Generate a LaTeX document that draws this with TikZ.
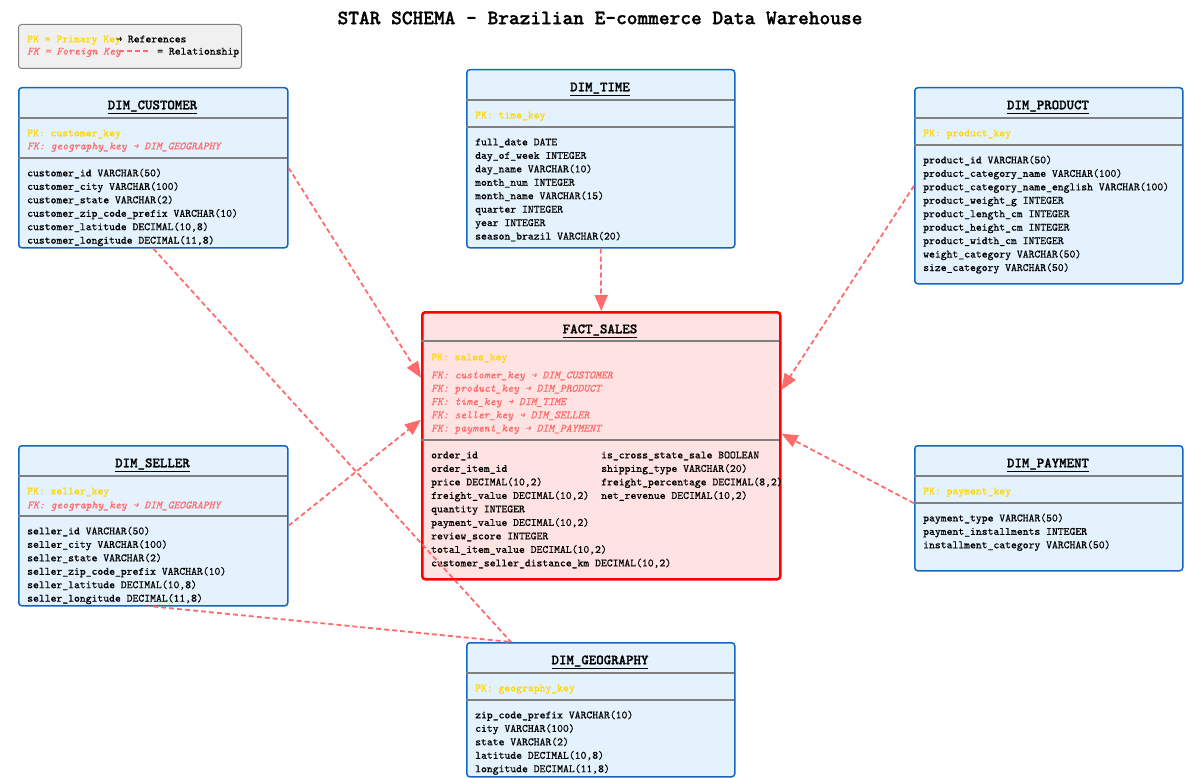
\documentclass[tikz,border=0pt]{standalone}
\usepackage{fontspec}
\newfontfamily\fieldfont{lmmono10-regular.otf}[ItalicFont=lmmono10-italic.otf,FakeBold=0.6]
\newfontfamily\headfont{lmmonolt10-bold.otf}[FakeBold=1.2]
\usepackage{tikz}
\usetikzlibrary{positioning,arrows.meta,calc}
\usepackage{xcolor}
\definecolor{dimfill}{RGB}{227,242,253}
\definecolor{dimline}{RGB}{21,101,192}
\definecolor{factfill}{RGB}{255,226,226}
\definecolor{factline}{RGB}{255,0,0}
\definecolor{pkgold}{RGB}{255,215,0}
\definecolor{fkred}{RGB}{255,107,107}
\definecolor{legendbg}{RGB}{240,240,240}

\tikzset{
  dimbox/.style={rectangle,rounded corners=3pt,draw=dimline,fill=dimfill,
    line width=1.5pt,anchor=north west,inner sep=0pt},
  factbox/.style={rectangle,rounded corners=3pt,draw=factline,fill=factfill,
    line width=2.5pt,anchor=north west,inner sep=0pt},
  tabletitle/.style={anchor=base,inner sep=0pt,
    font=\headfont\fontsize{14.2}{16}\selectfont},
  pkrow/.style={anchor=base west,inner sep=0pt,text=pkgold,
    font=\fieldfont\fontsize{11.15}{13}\selectfont},
  fkrow/.style={pkrow,text=fkred,font=\fieldfont\itshape\fontsize{11.15}{13}\selectfont},
  attrrow/.style={pkrow,text=black},
  divider/.style={draw=gray,line width=1.2pt},
  relation/.style={draw=fkred,line width=1.8pt,dash pattern=on 5pt off 3pt,
    -{Triangle[length=16pt,width=13pt]}},
}

\begin{document}
\begin{tikzpicture}[x=1pt,y=-1pt]
\useasboundingbox (0,0) rectangle (1190,778);

% heading
\node[anchor=base,inner sep=0pt,font=\headfont\fontsize{20.4}{23}\selectfont] (title) at (600,24.2)
  {STAR SCHEMA - Brazilian E-commerce Data Warehouse};

% legend
\node[rectangle,rounded corners=3pt,draw=gray,fill=legendbg,line width=1pt,anchor=north west,
  minimum width=223pt,minimum height=44pt,inner sep=0pt] (legend) at (18,24) {};
\node[pkrow] (legPK) at (27,42.4) {PK = Primary Key};
\node[attrrow] (legRef) at (116,42.4) {→ References};
\node[fkrow] (legFK) at (27,54.6) {FK = Foreign Key};
\coordinate (legA) at (119,51);
\coordinate (legB) at (151,51);
\draw[relation,-,line width=1.2pt] (legA) -- (legB);
\node[attrrow] (legRel) at (157,54.6) {= Relationship};

% DIM_CUSTOMER
\node[dimbox,minimum width=269pt,minimum height=160pt] (cust) at (18,87) {};
\node[tabletitle] (custT) at (152.5,109.3) {\underline{DIM\_CUSTOMER}};
\draw[divider] (18,118) -- (287,118);
\node[pkrow] (custPK) at (27,136.4) {PK: customer\_key};
\node[fkrow] (custFK) at (27,149.4) {FK: geography\_key → DIM\_GEOGRAPHY};
\draw[divider] (18,158) -- (287,158);
\foreach \row [count=\i] in {{customer\_id VARCHAR(50)},{customer\_city VARCHAR(100)},
  {customer\_state VARCHAR(2)},{customer\_zip\_code\_prefix VARCHAR(10)},
  {customer\_latitude DECIMAL(10,8)},{customer\_longitude DECIMAL(11,8)}}
  \node[attrrow] (custA\i) at (27,{176.4+13.45*(\i-1)}) {\row};

% DIM_TIME
\node[dimbox,minimum width=268pt,minimum height=178pt] (time) at (466,69) {};
\node[tabletitle] (timeT) at (600,91.3) {\underline{DIM\_TIME}};
\draw[divider] (466,100) -- (734,100);
\node[pkrow] (timePK) at (475,118.4) {PK: time\_key};
\draw[divider] (466,127) -- (734,127);
\foreach \row [count=\i] in {{full\_date DATE},{day\_of\_week INTEGER},{day\_name VARCHAR(10)},
  {month\_num INTEGER},{month\_name VARCHAR(15)},{quarter INTEGER},{year INTEGER},
  {season\_brazil VARCHAR(20)}}
  \node[attrrow] (timeA\i) at (475,{145.4+13.45*(\i-1)}) {\row};

% DIM_PRODUCT
\node[dimbox,minimum width=268pt,minimum height=196pt] (prod) at (914,87) {};
\node[tabletitle] (prodT) at (1048,109.3) {\underline{DIM\_PRODUCT}};
\draw[divider] (914,118) -- (1182,118);
\node[pkrow] (prodPK) at (923,136.4) {PK: product\_key};
\draw[divider] (914,145) -- (1182,145);
\foreach \row [count=\i] in {{product\_id VARCHAR(50)},{product\_category\_name VARCHAR(100)},
  {product\_category\_name\_english VARCHAR(100)},{product\_weight\_g INTEGER},
  {product\_length\_cm INTEGER},{product\_height\_cm INTEGER},{product\_width\_cm INTEGER},
  {weight\_category VARCHAR(50)},{size\_category VARCHAR(50)}}
  \node[attrrow] (prodA\i) at (923,{163.4+13.45*(\i-1)}) {\row};

% FACT_SALES
\node[factbox,minimum width=358pt,minimum height=267pt] (fact) at (421,311) {};
\node[tabletitle] (factT) at (600,333.3) {\underline{FACT\_SALES}};
\draw[divider] (421,341) -- (779,341);
\node[pkrow] (factPK) at (431,360.4) {PK: sales\_key};
\foreach \row [count=\i] in {{FK: customer\_key → DIM\_CUSTOMER},{FK: product\_key → DIM\_PRODUCT},
  {FK: time\_key → DIM\_TIME},{FK: seller\_key → DIM\_SELLER},{FK: payment\_key → DIM\_PAYMENT}}
  \node[fkrow] (factFK\i) at (431,{378.4+13.3*(\i-1)}) {\row};
\draw[divider] (421,440) -- (779,440);
\foreach \row [count=\i] in {{order\_id},{order\_item\_id},{price DECIMAL(10,2)},
  {freight\_value DECIMAL(10,2)},{quantity INTEGER},{payment\_value DECIMAL(10,2)},
  {review\_score INTEGER},{total\_item\_value DECIMAL(10,2)},
  {customer\_seller\_distance\_km DECIMAL(10,2)}}
  \node[attrrow] (factA\i) at (431,{458.4+13.5*(\i-1)}) {\row};
\foreach \row [count=\i] in {{is\_cross\_state\_sale BOOLEAN},{shipping\_type VARCHAR(20)},
  {freight\_percentage DECIMAL(8,2)},{net\_revenue DECIMAL(10,2)}}
  \node[attrrow] (factB\i) at (601,{458.4+13.5*(\i-1)}) {\row};

% DIM_SELLER
\node[dimbox,minimum width=269pt,minimum height=160pt] (sell) at (18,445) {};
\node[tabletitle] (sellT) at (152.5,467.3) {\underline{DIM\_SELLER}};
\draw[divider] (18,476) -- (287,476);
\node[pkrow] (sellPK) at (27,494.4) {PK: seller\_key};
\node[fkrow] (sellFK) at (27,508.4) {FK: geography\_key → DIM\_GEOGRAPHY};
\draw[divider] (18,516) -- (287,516);
\foreach \row [count=\i] in {{seller\_id VARCHAR(50)},{seller\_city VARCHAR(100)},
  {seller\_state VARCHAR(2)},{seller\_zip\_code\_prefix VARCHAR(10)},
  {seller\_latitude DECIMAL(10,8)},{seller\_longitude DECIMAL(11,8)}}
  \node[attrrow] (sellA\i) at (27,{534.4+13.45*(\i-1)}) {\row};

% DIM_PAYMENT
\node[dimbox,minimum width=268pt,minimum height=125pt] (pay) at (914,445) {};
\node[tabletitle] (payT) at (1048,467.3) {\underline{DIM\_PAYMENT}};
\draw[divider] (914,476) -- (1182,476);
\node[pkrow] (payPK) at (923,494.4) {PK: payment\_key};
\draw[divider] (914,503) -- (1182,503);
\foreach \row [count=\i] in {{payment\_type VARCHAR(50)},{payment\_installments INTEGER},
  {installment\_category VARCHAR(50)}}
  \node[attrrow] (payA\i) at (923,{521.4+13.45*(\i-1)}) {\row};

% DIM_GEOGRAPHY
\node[dimbox,minimum width=268pt,minimum height=134pt] (geo) at (466,642) {};
\node[tabletitle] (geoT) at (600,664.3) {\underline{DIM\_GEOGRAPHY}};
\draw[divider] (466,673) -- (734,673);
\node[pkrow] (geoPK) at (475,691.4) {PK: geography\_key};
\draw[divider] (466,700) -- (734,700);
\foreach \row [count=\i] in {{zip\_code\_prefix VARCHAR(10)},{city VARCHAR(100)},
  {state VARCHAR(2)},{latitude DECIMAL(10,8)},{longitude DECIMAL(11,8)}}
  \node[attrrow] (geoA\i) at (475,{718.4+13.45*(\i-1)}) {\row};

% relationships
\draw[relation] (cust.east) -- ([yshift=68pt]fact.west);
\draw[relation] (prod.west) -- ([yshift=56pt]fact.east);
\draw[relation] (time.south) -- (fact.north);
\draw[relation] (sell.east) -- ([yshift=26pt]fact.west);
\draw[relation] ([yshift=5pt]pay.west) -- ([yshift=12pt]fact.east);
\draw[relation,-] (cust.south) -- ([xshift=45pt]geo.north west);
\draw[relation,-] (sell.south) -- ([xshift=45pt]geo.north west);
\end{tikzpicture}
\end{document}
